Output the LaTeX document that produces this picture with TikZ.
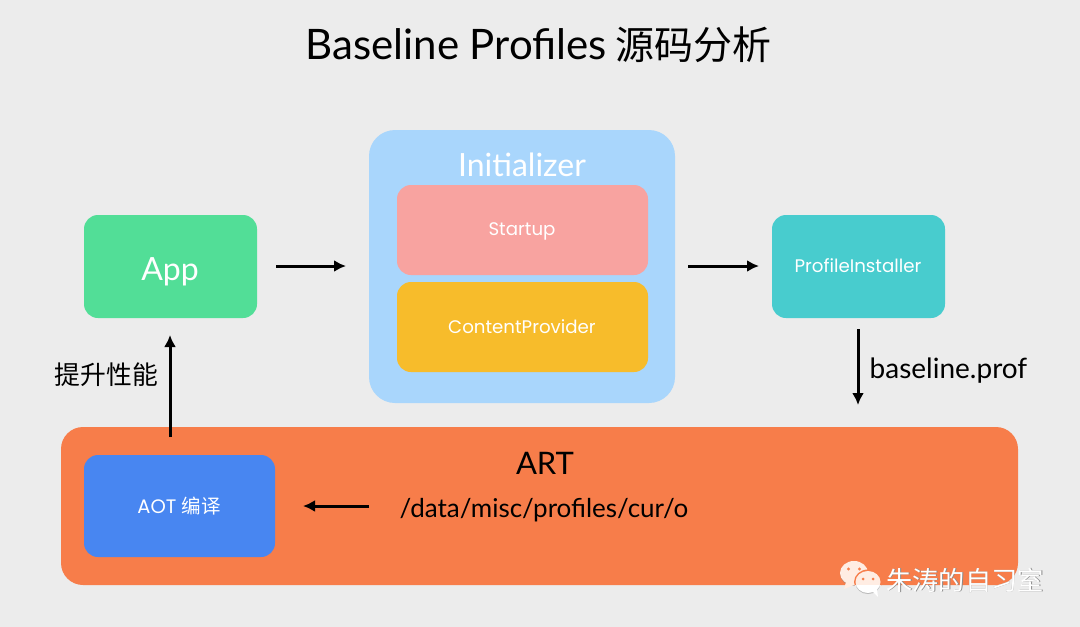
\documentclass[tikz,border=0pt]{standalone}
\usepackage{fontspec}
\setmainfont{Lato}
\newfontfamily\cjk{Noto Sans CJK SC}
\newfontfamily\geo{Poppins}
\usetikzlibrary{arrows.meta}
\definecolor{bgc}{HTML}{ECECEC}
\definecolor{appc}{HTML}{52DE97}
\definecolor{initc}{HTML}{A9D6FC}
\definecolor{startc}{HTML}{F8A3A0}
\definecolor{contc}{HTML}{F7BC2B}
\definecolor{instc}{HTML}{48CCCE}
\definecolor{artc}{HTML}{F77D4A}
\definecolor{aotc}{HTML}{4886F1}
\definecolor{wmtop}{HTML}{FFEDE3}
\definecolor{wmshadow}{HTML}{8A8A8A}
\tikzset{
  x=1pt,y=-1pt,
  conn/.style={line width=3pt,-{Latex[length=12pt,width=12pt]},black},
  lab/.style={inner sep=0pt,text=white,font=\geo\fontsize{18.2}{20}\selectfont},
  big/.style={inner sep=0pt,text=white,font=\fontsize{32}{34}\selectfont},
  blk/.style={inner sep=0pt,text=black},
  wmtext/.style={inner sep=0pt,font=\cjk\fontsize{26.2}{28}\selectfont},
}
\begin{document}
\begin{tikzpicture}
\useasboundingbox (0,0) rectangle (1080,627);
\fill[bgc] (0,0) rectangle (1080,627);
\node[blk,font=\fontsize{42}{46}\selectfont] (title) at (538.5,45) {Baseline Profiles\hspace{-2pt} {\cjk\fontsize{39}{40}\selectfont 源码分析}};
\fill[initc,rounded corners=26] (369,130) rectangle (675,403);
\node[big] (init) at (522,165) {Initializer};
\fill[startc,rounded corners=14] (397,185) rectangle (648,275);
\node[lab] (start) at (522,231) {Startup};
\fill[contc,rounded corners=14] (397,282) rectangle (648,372);
\node[lab] (cont) at (522,327) {ContentProvider};
\fill[appc,rounded corners=14] (84,215) rectangle (257,318);
\node[big] (app) at (170,272) {App};
\fill[instc,rounded corners=14] (772,215) rectangle (945,318);
\node[lab] (inst) at (858,266) {ProfileInstaller};
\fill[artc,rounded corners=22] (61,427) rectangle (1018,585);
\node[blk,font=\fontsize{31}{32}\selectfont] (art) at (545,463) {ART};
\node[blk,font=\fontsize{26}{30}\selectfont] (path) at (544,510) {/data/misc/profiles/cur/o};
\fill[aotc,rounded corners=14] (84,455) rectangle (275,557);
\node[lab,font=\geo\fontsize{19.5}{21}\selectfont] (aot) at (179,506) {AOT {\cjk 编译}};
\node[blk,font=\fontsize{28}{30}\selectfont] (prof) at (948.5,371) {baseline.prof};
\node[blk,font=\cjk\fontsize{25.8}{27}\selectfont] (perf) at (106.5,375) {提升性能};
\coordinate (a1) at (276,266); \coordinate (a2) at (346,266);
\coordinate (b1) at (688,266); \coordinate (b2) at (759,266);
\coordinate (c1) at (858,329); \coordinate (c2) at (858,405);
\coordinate (d1) at (369,506); \coordinate (d2) at (303,506);
\coordinate (e1) at (170,437); \coordinate (e2) at (170,335);
\draw[conn] (a1) -- (a2);
\draw[conn] (b1) -- (b2);
\draw[conn] (c1) -- (c2);
\draw[conn] (d1) -- (d2);
\draw[conn] (e1) -- (e2);
% watermark
\fill[wmshadow,opacity=.5] (854,574) ellipse (14 and 12);
\fill[wmtop] (854,573) ellipse (14 and 12);
\fill[wmtop] (846,582) -- (844,589) -- (854,585) -- cycle;
\fill[artc] (848.5,569) circle (1.7) (859.5,569) circle (1.7);
\begin{scope}
\clip (840,560) rectangle (890,585);
\fill[artc] (868,582) ellipse (14 and 12.5);
\fill[wmtop] (868,582) ellipse (12.5 and 11);
\end{scope}
\begin{scope}
\clip (840,585) rectangle (890,600);
\fill[bgc] (868,582) ellipse (14 and 12.5);
\fill[wmshadow,opacity=.5] (868,583) ellipse (12.5 and 11);
\fill[white] (868,582) ellipse (12.5 and 11);
\fill[white] (872,591) -- (878,597) -- (877,589) -- cycle;
\end{scope}
\fill[artc] (863,579) circle (1.5) (873,579) circle (1.5);
\node[wmtext,text=wmshadow] at (965.7,580.7) {朱涛的自习室};
\node[wmtext,text=white] (wm) at (965,580) {朱涛的自习室};
\end{tikzpicture}
\end{document}
